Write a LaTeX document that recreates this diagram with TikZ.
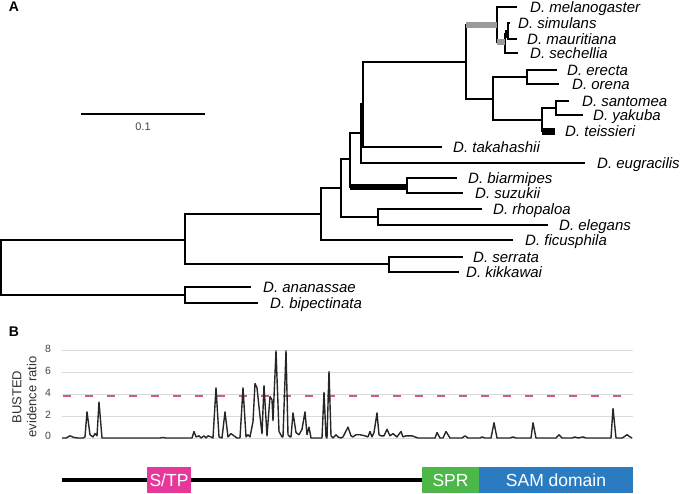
\documentclass[tikz,border=0pt]{standalone}
\usepackage{fontspec}
\setmainfont{Liberation Sans}
\definecolor{stpcol}{RGB}{230,56,154}
\definecolor{sprcol}{RGB}{77,183,73}
\definecolor{samcol}{RGB}{42,123,192}
\definecolor{thrcol}{RGB}{205,95,120}
\definecolor{gridcol}{RGB}{218,218,218}
\definecolor{txtgrey}{RGB}{70,70,70}
\definecolor{brgrey}{RGB}{155,155,155}
\newcommand\leaf[5]{\coordinate (#1) at (#2,#3); \node[leaflab] (#1-lab) at (#4,#3+5) {D. #5};}
\begin{document}
\begin{tikzpicture}[x=1pt,y=-1pt,
  br/.style={line width=1.2pt},
  thkblack/.style={line width=#1, black},
  thkgrey/.style={line width=#1, brgrey},
  leaflab/.style={anchor=base west, inner sep=0pt, font=\fontsize{15}{15}\selectfont\itshape},
  panel/.style={font=\fontsize{14}{14}\selectfont\bfseries, inner sep=0pt},
  gridln/.style={gridcol, line width=0.8pt},
  ticklab/.style={font=\fontsize{10.5}{10.5}\selectfont, txtgrey, inner sep=0pt},
  thr/.style={thrcol, line width=1.2pt, dash pattern=on 8pt off 14pt},
  trace/.style={line width=1.4pt, black!85, line join=round},
  dom/.style={text=white, inner sep=0pt, minimum height=26pt, font=\fontsize{17.5}{17.5}\selectfont}
]
\useasboundingbox (0,0) rectangle (680,493);

% panel letters
\node[panel] (pA) at (14,7) {A};
\node[panel] (pB) at (14,332) {B};

% scale bar
\coordinate (sb1) at (81,114);
\coordinate (sb2) at (205,114);
\draw[br] (sb1) -- (sb2);
\node[font=\fontsize{11}{11}\selectfont, txtgrey, inner sep=0pt] (sblab) at (143,127) {0.1};

% internal nodes
\coordinate (root) at (1,267);
\coordinate (n1) at (185,240);
\coordinate (n2) at (185,295);
\coordinate (n3) at (321,214);
\coordinate (n4) at (389,264);
\coordinate (n5) at (341,188);
\coordinate (n6) at (350,159);
\coordinate (n7) at (378,217);
\coordinate (nA) at (361,133);
\coordinate (nB) at (363,104);
\coordinate (nD) at (407,187);
\coordinate (nG) at (466,62);
\coordinate (nH) at (497,25);
\coordinate (nI) at (505,42);
\coordinate (nJ) at (508,34);
\coordinate (nK) at (493,99);
\coordinate (nL) at (527,77);
\coordinate (nM) at (542,120);
\coordinate (nN) at (556,108);

% leaves
\leaf{mel}{517}{7}{530}{melanogaster}
\leaf{sim}{510}{23}{518}{simulans}
\leaf{mau}{517}{39}{527}{mauritiana}
\leaf{sec}{518}{53}{530}{sechellia}
\leaf{ere}{557}{70}{567}{erecta}
\leaf{ore}{559}{84}{572}{orena}
\leaf{san}{569}{101}{582}{santomea}
\leaf{yak}{583}{115}{593}{yakuba}
\leaf{tei}{555}{131}{565}{teissieri}
\leaf{tak}{442}{147}{453}{takahashii}
\leaf{eug}{585}{163}{597}{eugracilis}
\leaf{bia}{457}{178}{468}{biarmipes}
\leaf{suz}{463}{193}{475}{suzukii}
\leaf{rho}{482}{209}{493}{rhopaloa}
\leaf{ele}{548}{225}{559}{elegans}
\leaf{fic}{513}{240}{525}{ficusphila}
\leaf{ser}{463}{257}{473}{serrata}
\leaf{kik}{459}{272}{466}{kikkawai}
\leaf{ana}{251}{287}{263}{ananassae}
\leaf{bip}{258}{303}{270}{bipectinata}

% tree edges
\draw[br] (root) |- (n1);
\draw[br] (root) |- (n2);
\draw[br] (n2) |- (ana);
\draw[br] (n2) |- (bip);
\draw[br] (n1) |- (n3);
\draw[br] (n1) |- (n4);
\draw[br] (n4) |- (ser);
\draw[br] (n4) |- (kik);
\draw[br] (n3) |- (n5);
\draw[br] (n3) |- (fic);
\draw[br] (n5) |- (n6);
\draw[br] (n5) |- (n7);
\draw[br] (n7) |- (rho);
\draw[br] (n7) |- (ele);
\draw[br] (n6) |- (nA);
\draw[br] (n6) |- (nD);
\draw[br] (nD) |- (bia);
\draw[br] (nD) |- (suz);
\draw[br] (nA) |- (nB);
\draw[br] (nA) |- (eug);
\draw[br] (nB) |- (nG);
\draw[br] (nB) |- (tak);
\draw[br] (nG) |- (nH);
\draw[br] (nG) |- (nK);
\draw[br] (nH) |- (mel);
\draw[br] (nH) |- (nI);
\draw[br] (nI) |- (nJ);
\draw[br] (nI) |- (sec);
\draw[br] (nJ) |- (sim);
\draw[br] (nJ) |- (mau);
\draw[br] (nK) |- (nL);
\draw[br] (nK) |- (nM);
\draw[br] (nL) |- (ere);
\draw[br] (nL) |- (ore);
\draw[br] (nM) |- (nN);
\draw[br] (nM) |- (tei);
\draw[br] (nN) |- (san);
\draw[br] (nN) |- (yak);

% highlighted branches
\draw[thkgrey=6pt] (nG |- nH) -- (nH);
\draw[thkgrey=6pt] (nH |- nI) -- (nI);
\draw[thkblack=8pt] (nI |- nJ) -- (nJ);
\draw[thkblack=5.5pt] (n6 |- nD) -- (nD);
\draw[thkblack=7pt] (nM |- tei) -- (tei);

% panel B plot
\begin{scope}[shift={(0pt,-438pt)}, y=10.9pt]
\foreach \v in {0,2,4,6,8} {
  \draw[gridln] (62,\v) -- (633,\v);
  \node[ticklab] (tk\v) at (48,\v+0.15) {\v};
}
\coordinate (th1) at (63,3.85);
\coordinate (th2) at (633,3.85);
\draw[thr] (th1) -- (th2);
\draw[trace] plot coordinates {
(62,0) (66,0) (70,0.2) (74,0.05) (78,0) (83,0) (85,0.1) (87,2.4) (90,0.3) (93,0.1) (95,0.4) (97,0.2) (99,3.3) (102,0)
(160,0) (163,0.05) (166,0) (192,0) (194,0.6) (196,0.1) (199,0.2) (201,0) (204,0.2) (206,0) (208,0.2) (211,0.1) (213,0)
(216,4.6) (219,0.1) (222,0) (225,2.4) (228,0.1) (231,0.4) (234,0.2) (237,0) (240,0) (243,4.6) (246,0.1) (248,0.3) (250,0.1)
(253,1.5) (255,5.0) (257,4.6) (260,2.0) (262,0.4) (264,4.8) (267,0.2) (270,3.8) (272,3.5) (273,1.6) (276,8.0) (279,0.6)
(282,0.1) (283,0.1) (286,8.0) (288,0.3) (290,0.1) (291,0.1) (293,2.3) (296,0.5) (299,0.3) (302,0.8) (305,2.4) (307,0.3)
(309,1.0) (311,0) (322,0) (324,4.2) (326,0.1) (327,0) (329,6.1) (331,0.2) (333,0) (336,0.3) (338,0.1) (341,0) (343,0.1)
(348,1.0) (351,0.2) (353,0.1) (356,0.3) (360,0.3) (365,0.2) (368,0.1) (370,0.6) (372,0.1) (374,0.5) (377,2.3) (379,0.3)
(381,0.2) (384,0.2) (387,0.8) (390,0.2) (393,0.4) (397,0.1) (401,0.6) (403,0.1) (406,0.2) (412,0.2) (418,0) (435,0)
(437,0.5) (440,0) (443,0) (446,0.6) (450,0) (462,0) (465,0.2) (468,0) (480,0) (482,0.1) (485,0) (491,0) (494,1.4) (497,0)
(510,0) (513,0.1) (516,0) (531,0) (533,1.4) (536,0) (556,0) (559,0.3) (562,0) (572,0) (575,0.1) (578,0) (583,0.1) (586,0)
(611,0) (613,2.7) (616,0) (622,0) (624,0.1) (627,0.3) (630,0.1) (632,0)
};
\end{scope}
\node[rotate=90, align=center, font=\fontsize{13}{15}\selectfont, txtgrey!70!black, inner sep=0pt] (ylab) at (24.5,397) {BUSTED\\evidence ratio};

% domain bar
\coordinate (d0) at (62,480);
\coordinate (d1) at (422,480);
\draw[line width=4pt] (d0) -- (d1);
\node[dom, fill=stpcol, minimum width=44pt] (stp) at (169,480) {S/TP};
\node[dom, fill=sprcol, minimum width=57pt] (spr) at (450.5,480) {SPR};
\node[dom, fill=samcol, minimum width=154pt] (sam) at (556,480) {SAM domain};
\end{tikzpicture}
\end{document}
